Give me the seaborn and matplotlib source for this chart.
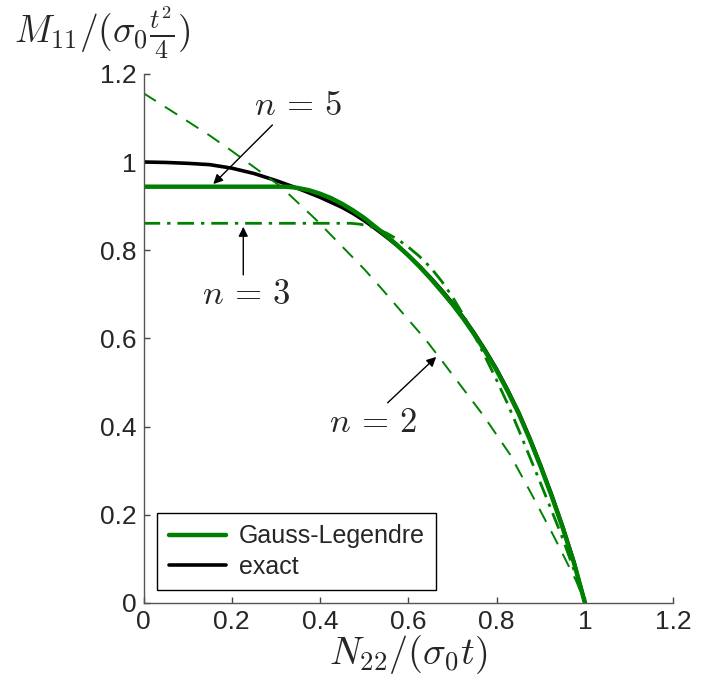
import matplotlib
matplotlib.use("Agg")
import matplotlib.pyplot as plt
from matplotlib.lines import Line2D
import seaborn as sns

# ---- data ----
x_exact = [0, 0.05, 0.10, 0.15, 0.20, 0.25, 0.30, 0.35, 0.40, 0.45, 0.475, 0.50, 0.525,
           0.55, 0.575, 0.60, 0.625, 0.65, 0.675, 0.70, 0.725, 0.75, 0.775, 0.80, 0.825,
           0.85, 0.875, 0.90, 0.925, 0.95, 0.975, 1.0]
y_exact = [1.000, 0.999, 0.997, 0.994, 0.986, 0.974, 0.958, 0.940, 0.920, 0.897, 0.883,
           0.867, 0.849, 0.830, 0.810, 0.788, 0.764, 0.738, 0.710, 0.680, 0.647, 0.611,
           0.572, 0.530, 0.483, 0.432, 0.374, 0.311, 0.244, 0.172, 0.093, 0.0]

x_n5 = [0, 0.32, 0.335, 0.35, 0.375, 0.40, 0.425, 0.45, 0.475, 0.50, 0.525, 0.55, 0.575,
        0.60, 0.625, 0.65, 0.675, 0.70, 0.725, 0.75, 0.775, 0.80, 0.825, 0.85, 0.875,
        0.90, 0.925, 0.95, 0.975, 1.0]
y_n5 = [0.944, 0.944, 0.943, 0.941, 0.936, 0.928, 0.918, 0.905, 0.890, 0.873, 0.853,
        0.833, 0.811, 0.788, 0.763, 0.736, 0.707, 0.677, 0.644, 0.608, 0.569, 0.527,
        0.480, 0.429, 0.371, 0.308, 0.241, 0.169, 0.091, 0.0]

x_n3 = [0, 0.47, 0.49, 0.51, 0.53, 0.55, 0.575, 0.60, 0.625, 0.65, 0.675, 0.70, 0.725,
        0.75, 0.775, 0.80, 0.825, 0.85, 0.875, 0.90, 0.925, 0.95, 0.975, 1.0]
y_n3 = [0.861, 0.861, 0.859, 0.855, 0.848, 0.839, 0.825, 0.807, 0.786, 0.761, 0.730,
        0.694, 0.652, 0.606, 0.556, 0.505, 0.451, 0.392, 0.331, 0.270, 0.208, 0.145,
        0.075, 0.0]

x_n2 = [0, 0.06, 0.15, 0.20, 0.31, 0.39, 0.50, 0.54, 0.64, 0.67, 0.77, 0.83, 0.88,
        0.93, 0.98, 1.0]
y_n2 = [1.156, 1.118, 1.060, 1.025, 0.945, 0.870, 0.757, 0.712, 0.596, 0.557, 0.425,
        0.337, 0.245, 0.150, 0.050, 0.0]

ticks = [0, 0.2, 0.4, 0.6, 0.8, 1, 1.2]
tick_labels = ["0", "0.2", "0.4", "0.6", "0.8", "1", "1.2"]
legend_labels = ["Gauss-Legendre", "exact"]

GREEN = "#008000"

sns.set_theme(style="ticks")
plt.rcParams["font.family"] = ["Liberation Sans", "DejaVu Sans"]
plt.rcParams["mathtext.fontset"] = "cm"

fig = plt.figure(figsize=(7.16, 6.82), dpi=100)
ax = fig.add_axes([143.5 / 716, 1 - 603 / 682, 529.8 / 716, 529.2 / 682])

sns.lineplot(x=x_exact, y=y_exact, ax=ax, color="black", lw=2.6, estimator=None, sort=False)
sns.lineplot(x=x_n5, y=y_n5, ax=ax, color=GREEN, lw=3.2, estimator=None, sort=False)
sns.lineplot(x=x_n3, y=y_n3, ax=ax, color=GREEN, lw=2.0, estimator=None, sort=False,
             linestyle=(0, (6, 2.5, 1.2, 2.5)))
sns.lineplot(x=x_n2, y=y_n2, ax=ax, color=GREEN, lw=1.4, estimator=None, sort=False,
             linestyle=(0, (7.5, 5.5)))

ax.set_xlim(0, 1.2)
ax.set_ylim(0, 1.2)
ax.set_xticks(ticks)
ax.set_xticklabels(tick_labels)
ax.set_yticks(ticks)
ax.set_yticklabels(tick_labels)
ax.tick_params(direction="in", length=4, width=1, color="#444444", labelsize=19, pad=5)
for s in ["top", "right"]:
    ax.spines[s].set_visible(False)
for s in ["left", "bottom"]:
    ax.spines[s].set_color("#555555")
    ax.spines[s].set_linewidth(1)

ax.set_xlabel(r"$N_{22}/(\sigma_0 t)$", fontsize=27.5, va="center")
ax.xaxis.set_label_coords(0.5, -0.098)
ax.set_ylabel(r"$M_{11}/(\sigma_0\frac{t^2}{4})$", fontsize=27, rotation=0, ha="left", va="center")
ax.yaxis.set_label_coords(-0.244, 1.078)

# annotations
arrow = dict(arrowstyle="-|>", color="black", lw=1, mutation_scale=14, shrinkA=0, shrinkB=0)
ax.annotate("", xy=(0.158, 0.950), xytext=(0.292, 1.084), arrowprops=arrow)
ax.text(0.350, 1.127, r"$n\,=\,5$", fontsize=25, ha="center", va="center")
ax.annotate("", xy=(0.226, 0.853), xytext=(0.226, 0.744), arrowprops=arrow)
ax.text(0.232, 0.700, r"$n\,=\,3$", fontsize=25, ha="center", va="center")
ax.annotate("", xy=(0.663, 0.558), xytext=(0.553, 0.454), arrowprops=arrow)
ax.text(0.519, 0.409, r"$n\,=\,2$", fontsize=25, ha="center", va="center")

# legend
handles = [Line2D([], [], color=GREEN, lw=3.2), Line2D([], [], color="black", lw=2.6)]
leg = ax.legend(handles, legend_labels, loc="lower left", bbox_to_anchor=(0.026, 0.0246),
                fontsize=18, frameon=True, fancybox=False, framealpha=1, edgecolor="black",
                handlelength=2.3, handletextpad=0.5, labelspacing=0.25, borderpad=0.45,
                borderaxespad=0)
leg.get_frame().set_linewidth(1)

fig.savefig("out.png", dpi=100)
